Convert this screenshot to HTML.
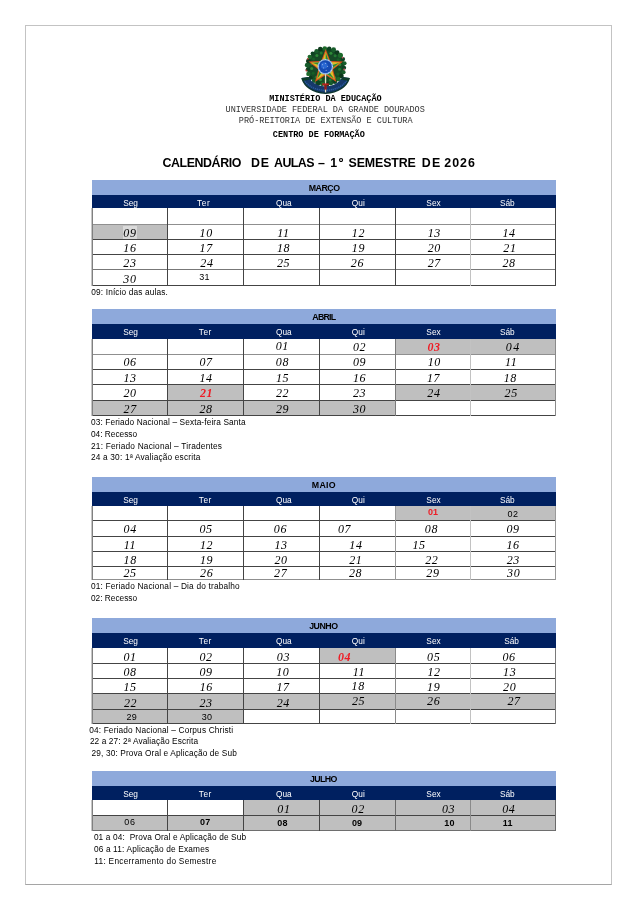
<!DOCTYPE html>
<html lang="pt-BR">
<head>
<meta charset="utf-8">
<title>Calendário de Aulas – 1º Semestre de 2026</title>
<style>
html,body{margin:0;padding:0;background:#fff;}
body{width:637px;height:900px;position:relative;overflow:hidden;}
.page{position:absolute;left:25px;top:25px;width:585px;height:858px;border:1px solid #c3c3c3;border-right-color:#c3c3c3;border-bottom-color:#a5a5a5;background:#fff;}
.w{position:absolute;left:0;top:0;width:637px;height:900px;will-change:transform;}
.r{position:absolute;}
.t{position:absolute;height:20px;line-height:20px;white-space:pre;margin:0;padding:0;}
.s{font-family:"Liberation Sans",sans-serif;}
.f{font-family:"Liberation Serif",serif;}
.m{font-family:"Liberation Mono",monospace;}
svg{position:absolute;}
</style>
</head>
<body>
<div class="page"></div>
<div class="w">

<svg style="left:293px;top:36px" width="64" height="62" viewBox="293 36 64 62">
<defs><filter id="bl" x="-10%" y="-10%" width="120%" height="120%"><feGaussianBlur stdDeviation="0.5"/></filter></defs>
<g filter="url(#bl)">
<circle cx="325.7" cy="66.5" r="18.8" fill="#144a26"/>
<circle cx="344.08" cy="67.76" r="2.09" fill="#0f4221"/>
<circle cx="343.55" cy="72.13" r="2.04" fill="#195c2a"/>
<circle cx="341.56" cy="76.08" r="2.22" fill="#0a381a"/>
<circle cx="338.42" cy="79.18" r="2.30" fill="#1f6a2c"/>
<circle cx="334.93" cy="81.77" r="2.26" fill="#0f4221"/>
<circle cx="330.94" cy="83.52" r="2.05" fill="#195c2a"/>
<circle cx="326.64" cy="84.60" r="2.50" fill="#0a381a"/>
<circle cx="322.24" cy="84.00" r="2.13" fill="#1f6a2c"/>
<circle cx="317.85" cy="83.14" r="2.57" fill="#0f4221"/>
<circle cx="314.04" cy="80.78" r="2.24" fill="#195c2a"/>
<circle cx="310.57" cy="77.88" r="2.03" fill="#0a381a"/>
<circle cx="308.34" cy="73.95" r="2.17" fill="#1f6a2c"/>
<circle cx="307.72" cy="69.55" r="2.07" fill="#0f4221"/>
<circle cx="307.34" cy="65.24" r="2.49" fill="#195c2a"/>
<circle cx="308.30" cy="61.02" r="2.35" fill="#0a381a"/>
<circle cx="309.76" cy="56.86" r="2.22" fill="#1f6a2c"/>
<circle cx="312.64" cy="53.47" r="2.04" fill="#0f4221"/>
<circle cx="316.45" cy="51.21" r="2.12" fill="#195c2a"/>
<circle cx="320.28" cy="48.90" r="2.26" fill="#0a381a"/>
<circle cx="324.76" cy="48.51" r="2.35" fill="#1f6a2c"/>
<circle cx="329.22" cy="48.68" r="2.18" fill="#0f4221"/>
<circle cx="333.62" cy="49.71" r="2.42" fill="#195c2a"/>
<circle cx="337.15" cy="52.48" r="2.34" fill="#0a381a"/>
<circle cx="340.47" cy="55.40" r="2.53" fill="#1f6a2c"/>
<circle cx="342.94" cy="59.10" r="2.17" fill="#0f4221"/>
<circle cx="344.50" cy="63.31" r="2.07" fill="#195c2a"/>
<circle cx="339.62" cy="69.32" r="1.5" fill="#237a31"/>
<circle cx="337.81" cy="73.91" r="1.5" fill="#175e28"/>
<circle cx="334.55" cy="77.61" r="1.5" fill="#2f8a37"/>
<circle cx="330.22" cy="79.96" r="1.5" fill="#237a31"/>
<circle cx="325.34" cy="80.70" r="1.5" fill="#175e28"/>
<circle cx="320.51" cy="79.72" r="1.5" fill="#2f8a37"/>
<circle cx="316.30" cy="77.14" r="1.5" fill="#237a31"/>
<circle cx="313.23" cy="73.28" r="1.5" fill="#175e28"/>
<circle cx="311.66" cy="68.61" r="1.5" fill="#2f8a37"/>
<circle cx="311.78" cy="63.68" r="1.5" fill="#237a31"/>
<circle cx="313.59" cy="59.09" r="1.5" fill="#175e28"/>
<circle cx="316.85" cy="55.39" r="1.5" fill="#2f8a37"/>
<circle cx="321.18" cy="53.04" r="1.5" fill="#237a31"/>
<circle cx="326.06" cy="52.30" r="1.5" fill="#175e28"/>
<circle cx="330.89" cy="53.28" r="1.5" fill="#2f8a37"/>
<circle cx="335.10" cy="55.86" r="1.5" fill="#237a31"/>
<circle cx="338.17" cy="59.72" r="1.5" fill="#175e28"/>
<circle cx="339.74" cy="64.39" r="1.5" fill="#2f8a37"/>
<circle cx="342.6" cy="57.6" r="0.9" fill="#c9546a"/>
<circle cx="344.2" cy="69.5" r="0.9" fill="#c9546a"/>
<circle cx="307.8" cy="58.8" r="0.9" fill="#b23a2e"/>
<circle cx="306.4" cy="70.5" r="0.9" fill="#b23a2e"/>
<path d="M301.8 78.0 L308.5 77.0 Q313.5 85.8 325.4 86.6 Q337.5 85.8 342.6 77.0 L349.4 78.0 Q344.8 91.8 325.4 93.3 Q306.2 91.8 301.8 78.0 Z" fill="#12376a"/>
<path d="M304.0 80.0 Q310 89.6 325.4 90.4 Q341 89.6 347.2 80.0" fill="none" stroke="#4a84d2" stroke-width="1.5" stroke-opacity="0.5" stroke-dasharray="1.2 0.8"/>
<path d="M301.8 78.0 Q306.2 91.8 325.4 93.3 Q344.8 91.8 349.4 78.0" fill="none" stroke="#0a3530" stroke-width="1.3"/>
<path d="M301.8 78.0 L308.5 77.0 L310 79.5 L303 81 Z" fill="#0c3d2c"/>
<path d="M349.4 78.0 L342.6 77.0 L341 79.5 L348.2 81 Z" fill="#0c3d2c"/>
<polygon points="325.70,49.00 330.23,60.97 343.01,61.58 333.02,69.58 336.40,81.92 325.70,74.90 315.00,81.92 318.38,69.58 308.39,61.58 321.17,60.97" fill="#d8501e"/>
<polygon points="325.70,51.60 329.52,61.94 340.54,62.38 331.88,69.21 334.87,79.82 325.70,73.70 316.53,79.82 319.52,69.21 310.86,62.38 321.88,61.94" fill="#e3a722"/>
<polygon points="325.70,52.80 329.23,62.35 339.40,62.75 331.41,69.05 334.16,78.85 325.70,73.20 317.24,78.85 319.99,69.05 312.00,62.75 322.17,62.35" fill="#dcc02c"/>
<polygon points="325.70,52.80 329.23,62.35 325.7,67.2" fill="#2a8738"/>
<polygon points="339.40,62.75 331.41,69.05 325.7,67.2" fill="#2a8738"/>
<polygon points="334.16,78.85 325.70,73.20 325.7,67.2" fill="#2a8738"/>
<polygon points="317.24,78.85 319.99,69.05 325.7,67.2" fill="#2a8738"/>
<polygon points="312.00,62.75 322.17,62.35 325.7,67.2" fill="#2a8738"/>
<rect x="324.9" y="74" width="1.3" height="18.4" fill="#e6dfc4"/>
<rect x="322.2" y="83.4" width="6.6" height="1.9" fill="#b5221d"/>
<rect x="324.3" y="85" width="2.4" height="4.6" fill="#8a1a1a"/>
<circle cx="325.3" cy="66.7" r="7.8" fill="#8db4e4"/>
<circle cx="325.3" cy="66.7" r="6.5" fill="#174bb2"/>
<circle cx="324.2" cy="65.5" r="3.3" fill="#2a68d2"/>
<circle cx="332.40" cy="66.70" r="0.4" fill="#fff"/>
<circle cx="331.45" cy="70.25" r="0.4" fill="#fff"/>
<circle cx="328.85" cy="72.85" r="0.4" fill="#fff"/>
<circle cx="325.30" cy="73.80" r="0.4" fill="#fff"/>
<circle cx="321.75" cy="72.85" r="0.4" fill="#fff"/>
<circle cx="319.15" cy="70.25" r="0.4" fill="#fff"/>
<circle cx="318.20" cy="66.70" r="0.4" fill="#fff"/>
<circle cx="319.15" cy="63.15" r="0.4" fill="#fff"/>
<circle cx="321.75" cy="60.55" r="0.4" fill="#fff"/>
<circle cx="325.30" cy="59.60" r="0.4" fill="#fff"/>
<circle cx="328.85" cy="60.55" r="0.4" fill="#fff"/>
<circle cx="331.45" cy="63.15" r="0.4" fill="#fff"/>
<circle cx="325.3" cy="63.3" r="0.45" fill="#fff"/>
<circle cx="323.5" cy="67.9" r="0.45" fill="#fff"/>
<circle cx="327.7" cy="66.3" r="0.45" fill="#fff"/>
<circle cx="326.1" cy="70.2" r="0.45" fill="#fff"/>
<circle cx="322.7" cy="64.7" r="0.45" fill="#fff"/>
</g></svg>
<div class="t m" style="top:88.93px;font-size:8.53px;left:-24.60px;width:700px;text-align:center;color:#000;font-weight:bold;">MINISTÉRIO DA EDUCAÇÃO</div>
<div class="t m" style="top:100.33px;font-size:8.53px;left:-24.80px;width:700px;text-align:center;color:#333;">UNIVERSIDADE FEDERAL DA GRANDE DOURADOS</div>
<div class="t m" style="top:111.03px;font-size:8.53px;left:-24.30px;width:700px;text-align:center;color:#333;">PRÓ-REITORIA DE EXTENSÃO E CULTURA</div>
<div class="t m" style="top:124.93px;font-size:8.53px;left:-31.20px;width:700px;text-align:center;color:#000;font-weight:bold;">CENTRO DE FORMAÇÃO</div>
<div class="t s" style="left:0;top:153.30px;width:637px;font-size:12.4px;font-weight:bold;color:#000"><span style="position:absolute;left:162.40px;letter-spacing:-0.40px">CALENDÁRIO</span> <span style="position:absolute;left:251.00px;letter-spacing:0.90px">DE</span> <span style="position:absolute;left:274.00px;letter-spacing:-0.56px">AULAS</span> <span style="position:absolute;left:318.00px;letter-spacing:0.00px">–</span> <span style="position:absolute;left:330.30px;letter-spacing:1.60px">1º</span> <span style="position:absolute;left:348.60px;letter-spacing:-0.13px">SEMESTRE</span> <span style="position:absolute;left:421.80px;letter-spacing:1.35px">DE</span> <span style="position:absolute;left:444.20px;letter-spacing:1.05px">2026</span></div>
<div class="r" style="left:92px;top:180px;width:464px;height:15px;background:#8ea9db"></div>
<div class="r" style="left:92px;top:195px;width:464px;height:13px;background:#002060"></div>
<div class="t s" style="top:178.15px;font-size:8.8px;left:-25.83px;width:700px;text-align:center;color:#000;font-weight:bold;letter-spacing:-0.45px;">MARÇO</div>
<div class="t s" style="top:193.02px;font-size:8.3px;left:-219.40px;width:700px;text-align:center;color:#fff;letter-spacing:0.0px;">Seg</div>
<div class="t s" style="top:193.02px;font-size:8.3px;left:-146.40px;width:700px;text-align:center;color:#fff;letter-spacing:0.6px;">Ter</div>
<div class="t s" style="top:193.02px;font-size:8.3px;left:-66.20px;width:700px;text-align:center;color:#fff;letter-spacing:0.0px;">Qua</div>
<div class="t s" style="top:193.02px;font-size:8.3px;left:8.30px;width:700px;text-align:center;color:#fff;letter-spacing:0.0px;">Qui</div>
<div class="t s" style="top:193.02px;font-size:8.3px;left:83.50px;width:700px;text-align:center;color:#fff;letter-spacing:0.0px;">Sex</div>
<div class="t s" style="top:193.02px;font-size:8.3px;left:157.30px;width:700px;text-align:center;color:#fff;letter-spacing:0.0px;">Sáb</div>
<div class="r" style="left:92px;top:225px;width:75px;height:14px;background:#bfbfbf"></div>
<div class="r" style="left:91px;top:224px;width:465px;height:1px;background:#8f8f8f;z-index:2"></div>
<div class="r" style="left:91px;top:239px;width:465px;height:1px;background:#444444;z-index:2"></div>
<div class="r" style="left:91px;top:254px;width:465px;height:1px;background:#444444;z-index:2"></div>
<div class="r" style="left:91px;top:269px;width:465px;height:1px;background:#777;z-index:2"></div>
<div class="r" style="left:91px;top:285px;width:465px;height:1px;background:#444444;z-index:2"></div>
<div class="r" style="left:91px;top:208px;width:1px;height:78px;background:#c6c6c6;z-index:2"></div>
<div class="r" style="left:92px;top:208px;width:1px;height:78px;background:#808080;z-index:2"></div>
<div class="r" style="left:167px;top:208px;width:1px;height:78px;background:#444444;z-index:2"></div>
<div class="r" style="left:243px;top:208px;width:1px;height:78px;background:#444444;z-index:2"></div>
<div class="r" style="left:319px;top:208px;width:1px;height:78px;background:#444444;z-index:2"></div>
<div class="r" style="left:395px;top:208px;width:1px;height:78px;background:#444444;z-index:2"></div>
<div class="r" style="left:470px;top:208px;width:1px;height:78px;background:#c2c2c2;z-index:2"></div>
<div class="r" style="left:555px;top:208px;width:1px;height:78px;background:#444444;z-index:2"></div>
<div class="t f" style="top:222.85px;font-size:12px;left:-220.10px;width:700px;text-align:center;color:#000;font-style:italic;letter-spacing:0.6px;"><span style="background:#dadada">09</span></div>
<div class="t f" style="top:222.85px;font-size:12px;left:-143.80px;width:700px;text-align:center;color:#000;font-style:italic;letter-spacing:0.6px;">10</div>
<div class="t f" style="top:222.85px;font-size:12px;left:-66.50px;width:700px;text-align:center;color:#000;font-style:italic;letter-spacing:0.6px;">11</div>
<div class="t f" style="top:222.85px;font-size:12px;left:8.40px;width:700px;text-align:center;color:#000;font-style:italic;letter-spacing:0.6px;">12</div>
<div class="t f" style="top:222.85px;font-size:12px;left:84.30px;width:700px;text-align:center;color:#000;font-style:italic;letter-spacing:0.6px;">13</div>
<div class="t f" style="top:222.85px;font-size:12px;left:159.00px;width:700px;text-align:center;color:#000;font-style:italic;letter-spacing:0.6px;">14</div>
<div class="t f" style="top:238.25px;font-size:12px;left:-220.10px;width:700px;text-align:center;color:#000;font-style:italic;letter-spacing:0.6px;">16</div>
<div class="t f" style="top:238.25px;font-size:12px;left:-143.80px;width:700px;text-align:center;color:#000;font-style:italic;letter-spacing:0.6px;">17</div>
<div class="t f" style="top:238.25px;font-size:12px;left:-66.50px;width:700px;text-align:center;color:#000;font-style:italic;letter-spacing:0.6px;">18</div>
<div class="t f" style="top:238.25px;font-size:12px;left:8.40px;width:700px;text-align:center;color:#000;font-style:italic;letter-spacing:0.6px;">19</div>
<div class="t f" style="top:238.25px;font-size:12px;left:84.30px;width:700px;text-align:center;color:#000;font-style:italic;letter-spacing:0.6px;">20</div>
<div class="t f" style="top:238.25px;font-size:12px;left:159.90px;width:700px;text-align:center;color:#000;font-style:italic;letter-spacing:0.6px;">21</div>
<div class="t f" style="top:253.25px;font-size:12px;left:-220.10px;width:700px;text-align:center;color:#000;font-style:italic;letter-spacing:0.6px;">23</div>
<div class="t f" style="top:253.25px;font-size:12px;left:-143.10px;width:700px;text-align:center;color:#000;font-style:italic;letter-spacing:0.6px;">24</div>
<div class="t f" style="top:253.25px;font-size:12px;left:-66.50px;width:700px;text-align:center;color:#000;font-style:italic;letter-spacing:0.6px;">25</div>
<div class="t f" style="top:253.25px;font-size:12px;left:7.40px;width:700px;text-align:center;color:#000;font-style:italic;letter-spacing:0.6px;">26</div>
<div class="t f" style="top:253.25px;font-size:12px;left:84.30px;width:700px;text-align:center;color:#000;font-style:italic;letter-spacing:0.6px;">27</div>
<div class="t f" style="top:253.25px;font-size:12px;left:159.00px;width:700px;text-align:center;color:#000;font-style:italic;letter-spacing:0.6px;">28</div>
<div class="t f" style="top:268.85px;font-size:12px;left:-220.10px;width:700px;text-align:center;color:#000;font-style:italic;letter-spacing:0.6px;">30</div>
<div class="t s" style="top:267.28px;font-size:9.0px;left:-145.40px;width:700px;text-align:center;color:#000;letter-spacing:0.3px;">31</div>
<div class="t s" style="top:281.62px;font-size:8.3px;left:91.30px;color:#000;letter-spacing:0.14px;">09: Início das aulas.</div>
<div class="r" style="left:92px;top:309px;width:464px;height:15px;background:#8ea9db"></div>
<div class="r" style="left:92px;top:324px;width:464px;height:15px;background:#002060"></div>
<div class="t s" style="top:307.15px;font-size:8.8px;left:-26.19px;width:700px;text-align:center;color:#000;font-weight:bold;letter-spacing:-0.78px;">ABRIL</div>
<div class="t s" style="top:322.02px;font-size:8.3px;left:-219.40px;width:700px;text-align:center;color:#fff;letter-spacing:0.0px;">Seg</div>
<div class="t s" style="top:322.02px;font-size:8.3px;left:-144.70px;width:700px;text-align:center;color:#fff;letter-spacing:0.6px;">Ter</div>
<div class="t s" style="top:322.02px;font-size:8.3px;left:-66.20px;width:700px;text-align:center;color:#fff;letter-spacing:0.0px;">Qua</div>
<div class="t s" style="top:322.02px;font-size:8.3px;left:8.30px;width:700px;text-align:center;color:#fff;letter-spacing:0.0px;">Qui</div>
<div class="t s" style="top:322.02px;font-size:8.3px;left:83.50px;width:700px;text-align:center;color:#fff;letter-spacing:0.0px;">Sex</div>
<div class="t s" style="top:322.02px;font-size:8.3px;left:157.30px;width:700px;text-align:center;color:#fff;letter-spacing:0.0px;">Sáb</div>
<div class="r" style="left:396px;top:339px;width:74px;height:15px;background:#bfbfbf"></div>
<div class="r" style="left:471px;top:339px;width:84px;height:15px;background:#bfbfbf"></div>
<div class="r" style="left:168px;top:385px;width:75px;height:15px;background:#bfbfbf"></div>
<div class="r" style="left:396px;top:385px;width:74px;height:15px;background:#bfbfbf"></div>
<div class="r" style="left:471px;top:385px;width:84px;height:15px;background:#bfbfbf"></div>
<div class="r" style="left:92px;top:401px;width:75px;height:14px;background:#bfbfbf"></div>
<div class="r" style="left:168px;top:401px;width:75px;height:14px;background:#bfbfbf"></div>
<div class="r" style="left:244px;top:401px;width:75px;height:14px;background:#bfbfbf"></div>
<div class="r" style="left:320px;top:401px;width:75px;height:14px;background:#bfbfbf"></div>
<div class="r" style="left:91px;top:354px;width:465px;height:1px;background:#8f8f8f;z-index:2"></div>
<div class="r" style="left:91px;top:369px;width:465px;height:1px;background:#444444;z-index:2"></div>
<div class="r" style="left:91px;top:384px;width:465px;height:1px;background:#444444;z-index:2"></div>
<div class="r" style="left:91px;top:400px;width:465px;height:1px;background:#444444;z-index:2"></div>
<div class="r" style="left:91px;top:415px;width:465px;height:1px;background:#444444;z-index:2"></div>
<div class="r" style="left:91px;top:339px;width:1px;height:77px;background:#c6c6c6;z-index:2"></div>
<div class="r" style="left:92px;top:339px;width:1px;height:77px;background:#808080;z-index:2"></div>
<div class="r" style="left:167px;top:339px;width:1px;height:77px;background:#444444;z-index:2"></div>
<div class="r" style="left:243px;top:339px;width:1px;height:77px;background:#444444;z-index:2"></div>
<div class="r" style="left:319px;top:339px;width:1px;height:77px;background:#444444;z-index:2"></div>
<div class="r" style="left:395px;top:339px;width:1px;height:77px;background:#7a7a7a;z-index:2"></div>
<div class="r" style="left:470px;top:339px;width:1px;height:77px;background:#c2c2c2;z-index:2"></div>
<div class="r" style="left:555px;top:339px;width:1px;height:77px;background:#8a8a8a;z-index:2"></div>
<div class="t f" style="top:336.05px;font-size:12px;left:-67.70px;width:700px;text-align:center;color:#000;font-style:italic;letter-spacing:0.6px;">01</div>
<div class="t f" style="top:337.25px;font-size:12px;left:9.50px;width:700px;text-align:center;color:#000;font-style:italic;letter-spacing:0.6px;">02</div>
<div class="t f" style="top:337.25px;font-size:12px;left:83.90px;width:700px;text-align:center;color:#ee1c25;font-weight:bold;font-style:italic;letter-spacing:0.5px;">03</div>
<div class="t f" style="top:337.25px;font-size:12px;left:163.30px;width:700px;text-align:center;color:#000;font-style:italic;letter-spacing:1.6px;">04</div>
<div class="t f" style="top:352.25px;font-size:12px;left:-220.00px;width:700px;text-align:center;color:#000;font-style:italic;letter-spacing:0.6px;">06</div>
<div class="t f" style="top:352.25px;font-size:12px;left:-143.90px;width:700px;text-align:center;color:#000;font-style:italic;letter-spacing:0.6px;">07</div>
<div class="t f" style="top:352.25px;font-size:12px;left:-67.60px;width:700px;text-align:center;color:#000;font-style:italic;letter-spacing:0.6px;">08</div>
<div class="t f" style="top:352.25px;font-size:12px;left:9.50px;width:700px;text-align:center;color:#000;font-style:italic;letter-spacing:0.6px;">09</div>
<div class="t f" style="top:352.25px;font-size:12px;left:84.30px;width:700px;text-align:center;color:#000;font-style:italic;letter-spacing:0.6px;">10</div>
<div class="t f" style="top:352.25px;font-size:12px;left:161.20px;width:700px;text-align:center;color:#000;font-style:italic;letter-spacing:0.6px;">11</div>
<div class="t f" style="top:368.05px;font-size:12px;left:-220.00px;width:700px;text-align:center;color:#000;font-style:italic;letter-spacing:0.6px;">13</div>
<div class="t f" style="top:368.05px;font-size:12px;left:-143.90px;width:700px;text-align:center;color:#000;font-style:italic;letter-spacing:0.6px;">14</div>
<div class="t f" style="top:368.05px;font-size:12px;left:-67.50px;width:700px;text-align:center;color:#000;font-style:italic;letter-spacing:0.6px;">15</div>
<div class="t f" style="top:368.05px;font-size:12px;left:9.50px;width:700px;text-align:center;color:#000;font-style:italic;letter-spacing:0.6px;">16</div>
<div class="t f" style="top:368.05px;font-size:12px;left:83.60px;width:700px;text-align:center;color:#000;font-style:italic;letter-spacing:0.6px;">17</div>
<div class="t f" style="top:368.05px;font-size:12px;left:160.30px;width:700px;text-align:center;color:#000;font-style:italic;letter-spacing:0.6px;">18</div>
<div class="t f" style="top:383.05px;font-size:12px;left:-220.00px;width:700px;text-align:center;color:#000;font-style:italic;letter-spacing:0.6px;">20</div>
<div class="t f" style="top:383.05px;font-size:12px;left:-143.40px;width:700px;text-align:center;color:#ee1c25;font-weight:bold;font-style:italic;letter-spacing:0.5px;">21</div>
<div class="t f" style="top:383.05px;font-size:12px;left:-67.50px;width:700px;text-align:center;color:#000;font-style:italic;letter-spacing:0.6px;">22</div>
<div class="t f" style="top:383.05px;font-size:12px;left:9.50px;width:700px;text-align:center;color:#000;font-style:italic;letter-spacing:0.6px;">23</div>
<div class="t f" style="top:383.05px;font-size:12px;left:83.90px;width:700px;text-align:center;color:#000;font-style:italic;letter-spacing:0.6px;">24</div>
<div class="t f" style="top:383.05px;font-size:12px;left:161.20px;width:700px;text-align:center;color:#000;font-style:italic;letter-spacing:0.6px;">25</div>
<div class="t f" style="top:398.55px;font-size:12px;left:-219.80px;width:700px;text-align:center;color:#000;font-style:italic;letter-spacing:0.6px;">27</div>
<div class="t f" style="top:398.55px;font-size:12px;left:-143.90px;width:700px;text-align:center;color:#000;font-style:italic;letter-spacing:0.6px;">28</div>
<div class="t f" style="top:398.55px;font-size:12px;left:-67.50px;width:700px;text-align:center;color:#000;font-style:italic;letter-spacing:0.6px;">29</div>
<div class="t f" style="top:398.55px;font-size:12px;left:9.50px;width:700px;text-align:center;color:#000;font-style:italic;letter-spacing:0.6px;">30</div>
<div class="t s" style="top:412.22px;font-size:8.3px;left:91.00px;color:#000;letter-spacing:0.12px;">03: Feriado Nacional – Sexta-feira Santa</div>
<div class="t s" style="top:424.02px;font-size:8.3px;left:91.00px;color:#000;">04: Recesso</div>
<div class="t s" style="top:435.82px;font-size:8.3px;left:91.00px;color:#000;letter-spacing:0.2px;">21: Feriado Nacional – Tiradentes</div>
<div class="t s" style="top:447.12px;font-size:8.3px;left:91.00px;color:#000;letter-spacing:0.176px;">24 a 30: 1ª Avaliação escrita</div>
<div class="r" style="left:92px;top:477px;width:464px;height:15px;background:#8ea9db"></div>
<div class="r" style="left:92px;top:492px;width:464px;height:14px;background:#002060"></div>
<div class="t s" style="top:475.15px;font-size:8.8px;left:-26.19px;width:700px;text-align:center;color:#000;font-weight:bold;letter-spacing:0.23px;">MAIO</div>
<div class="t s" style="top:490.02px;font-size:8.3px;left:-219.40px;width:700px;text-align:center;color:#fff;letter-spacing:0.0px;">Seg</div>
<div class="t s" style="top:490.02px;font-size:8.3px;left:-144.70px;width:700px;text-align:center;color:#fff;letter-spacing:0.6px;">Ter</div>
<div class="t s" style="top:490.02px;font-size:8.3px;left:-66.20px;width:700px;text-align:center;color:#fff;letter-spacing:0.0px;">Qua</div>
<div class="t s" style="top:490.02px;font-size:8.3px;left:8.30px;width:700px;text-align:center;color:#fff;letter-spacing:0.0px;">Qui</div>
<div class="t s" style="top:490.02px;font-size:8.3px;left:83.50px;width:700px;text-align:center;color:#fff;letter-spacing:0.0px;">Sex</div>
<div class="t s" style="top:490.02px;font-size:8.3px;left:157.30px;width:700px;text-align:center;color:#fff;letter-spacing:0.0px;">Sáb</div>
<div class="r" style="left:396px;top:506px;width:74px;height:14px;background:#bfbfbf"></div>
<div class="r" style="left:471px;top:506px;width:84px;height:14px;background:#bfbfbf"></div>
<div class="r" style="left:91px;top:520px;width:465px;height:1px;background:#444444;z-index:2"></div>
<div class="r" style="left:91px;top:536px;width:465px;height:1px;background:#444444;z-index:2"></div>
<div class="r" style="left:91px;top:551px;width:465px;height:1px;background:#444444;z-index:2"></div>
<div class="r" style="left:91px;top:566px;width:465px;height:1px;background:#444444;z-index:2"></div>
<div class="r" style="left:91px;top:579px;width:465px;height:1px;background:#8f8f8f;z-index:2"></div>
<div class="r" style="left:91px;top:506px;width:1px;height:74px;background:#c6c6c6;z-index:2"></div>
<div class="r" style="left:92px;top:506px;width:1px;height:74px;background:#808080;z-index:2"></div>
<div class="r" style="left:167px;top:506px;width:1px;height:74px;background:#444444;z-index:2"></div>
<div class="r" style="left:243px;top:506px;width:1px;height:74px;background:#444444;z-index:2"></div>
<div class="r" style="left:319px;top:506px;width:1px;height:74px;background:#444444;z-index:2"></div>
<div class="r" style="left:395px;top:506px;width:1px;height:74px;background:#9a9a9a;z-index:2"></div>
<div class="r" style="left:470px;top:506px;width:1px;height:74px;background:#c2c2c2;z-index:2"></div>
<div class="r" style="left:555px;top:506px;width:1px;height:74px;background:#9a9a9a;z-index:2"></div>
<div class="t s" style="top:502.48px;font-size:9.0px;left:82.90px;width:700px;text-align:center;color:#ee1c25;font-weight:bold;letter-spacing:0.0px;">01</div>
<div class="t s" style="top:503.98px;font-size:9.0px;left:162.90px;width:700px;text-align:center;color:#000;letter-spacing:0.3px;">02</div>
<div class="t f" style="top:519.25px;font-size:12px;left:-219.80px;width:700px;text-align:center;color:#000;font-style:italic;letter-spacing:0.6px;">04</div>
<div class="t f" style="top:519.25px;font-size:12px;left:-143.90px;width:700px;text-align:center;color:#000;font-style:italic;letter-spacing:0.6px;">05</div>
<div class="t f" style="top:519.25px;font-size:12px;left:-69.60px;width:700px;text-align:center;color:#000;font-style:italic;letter-spacing:0.6px;">06</div>
<div class="t f" style="top:519.25px;font-size:12px;left:-5.50px;width:700px;text-align:center;color:#000;font-style:italic;letter-spacing:0.6px;">07</div>
<div class="t f" style="top:519.25px;font-size:12px;left:81.40px;width:700px;text-align:center;color:#000;font-style:italic;letter-spacing:0.6px;">08</div>
<div class="t f" style="top:519.25px;font-size:12px;left:163.10px;width:700px;text-align:center;color:#000;font-style:italic;letter-spacing:0.6px;">09</div>
<div class="t f" style="top:534.95px;font-size:12px;left:-220.00px;width:700px;text-align:center;color:#000;font-style:italic;letter-spacing:0.6px;">11</div>
<div class="t f" style="top:534.95px;font-size:12px;left:-143.50px;width:700px;text-align:center;color:#000;font-style:italic;letter-spacing:0.6px;">12</div>
<div class="t f" style="top:534.95px;font-size:12px;left:-69.00px;width:700px;text-align:center;color:#000;font-style:italic;letter-spacing:0.6px;">13</div>
<div class="t f" style="top:534.95px;font-size:12px;left:5.90px;width:700px;text-align:center;color:#000;font-style:italic;letter-spacing:0.6px;">14</div>
<div class="t f" style="top:534.65px;font-size:12px;left:69.10px;width:700px;text-align:center;color:#000;font-style:italic;letter-spacing:0.6px;">15</div>
<div class="t f" style="top:534.95px;font-size:12px;left:163.10px;width:700px;text-align:center;color:#000;font-style:italic;letter-spacing:0.6px;">16</div>
<div class="t f" style="top:550.05px;font-size:12px;left:-219.80px;width:700px;text-align:center;color:#000;font-style:italic;letter-spacing:0.6px;">18</div>
<div class="t f" style="top:550.05px;font-size:12px;left:-143.50px;width:700px;text-align:center;color:#000;font-style:italic;letter-spacing:0.6px;">19</div>
<div class="t f" style="top:550.05px;font-size:12px;left:-69.00px;width:700px;text-align:center;color:#000;font-style:italic;letter-spacing:0.6px;">20</div>
<div class="t f" style="top:550.05px;font-size:12px;left:5.80px;width:700px;text-align:center;color:#000;font-style:italic;letter-spacing:0.6px;">21</div>
<div class="t f" style="top:550.05px;font-size:12px;left:81.80px;width:700px;text-align:center;color:#000;font-style:italic;letter-spacing:0.6px;">22</div>
<div class="t f" style="top:550.05px;font-size:12px;left:163.30px;width:700px;text-align:center;color:#000;font-style:italic;letter-spacing:0.6px;">23</div>
<div class="t f" style="top:562.55px;font-size:12px;left:-220.00px;width:700px;text-align:center;color:#000;font-style:italic;letter-spacing:0.6px;">25</div>
<div class="t f" style="top:562.55px;font-size:12px;left:-143.30px;width:700px;text-align:center;color:#000;font-style:italic;letter-spacing:0.6px;">26</div>
<div class="t f" style="top:562.55px;font-size:12px;left:-69.30px;width:700px;text-align:center;color:#000;font-style:italic;letter-spacing:0.6px;">27</div>
<div class="t f" style="top:562.55px;font-size:12px;left:5.50px;width:700px;text-align:center;color:#000;font-style:italic;letter-spacing:0.6px;">28</div>
<div class="t f" style="top:562.55px;font-size:12px;left:82.90px;width:700px;text-align:center;color:#000;font-style:italic;letter-spacing:0.6px;">29</div>
<div class="t f" style="top:562.55px;font-size:12px;left:163.70px;width:700px;text-align:center;color:#000;font-style:italic;letter-spacing:0.6px;">30</div>
<div class="t s" style="top:576.42px;font-size:8.3px;left:91.00px;color:#000;letter-spacing:0.18px;">01: Feriado Nacional – Dia do trabalho</div>
<div class="t s" style="top:587.72px;font-size:8.3px;left:91.00px;color:#000;">02: Recesso</div>
<div class="r" style="left:92px;top:618px;width:464px;height:15px;background:#8ea9db"></div>
<div class="r" style="left:92px;top:633px;width:464px;height:15px;background:#002060"></div>
<div class="t s" style="top:616.15px;font-size:8.8px;left:-26.64px;width:700px;text-align:center;color:#000;font-weight:bold;letter-spacing:-0.48px;">JUNHO</div>
<div class="t s" style="top:631.02px;font-size:8.3px;left:-219.40px;width:700px;text-align:center;color:#fff;letter-spacing:0.0px;">Seg</div>
<div class="t s" style="top:631.02px;font-size:8.3px;left:-144.70px;width:700px;text-align:center;color:#fff;letter-spacing:0.6px;">Ter</div>
<div class="t s" style="top:631.02px;font-size:8.3px;left:-66.20px;width:700px;text-align:center;color:#fff;letter-spacing:0.0px;">Qua</div>
<div class="t s" style="top:631.02px;font-size:8.3px;left:8.30px;width:700px;text-align:center;color:#fff;letter-spacing:0.0px;">Qui</div>
<div class="t s" style="top:631.02px;font-size:8.3px;left:83.50px;width:700px;text-align:center;color:#fff;letter-spacing:0.0px;">Sex</div>
<div class="t s" style="top:631.02px;font-size:8.3px;left:161.60px;width:700px;text-align:center;color:#fff;letter-spacing:0.0px;">Sáb</div>
<div class="r" style="left:320px;top:648px;width:75px;height:15px;background:#bfbfbf"></div>
<div class="r" style="left:92px;top:694px;width:75px;height:15px;background:#bfbfbf"></div>
<div class="r" style="left:168px;top:694px;width:75px;height:15px;background:#bfbfbf"></div>
<div class="r" style="left:244px;top:694px;width:75px;height:15px;background:#bfbfbf"></div>
<div class="r" style="left:320px;top:694px;width:75px;height:15px;background:#bfbfbf"></div>
<div class="r" style="left:396px;top:694px;width:74px;height:15px;background:#bfbfbf"></div>
<div class="r" style="left:471px;top:694px;width:84px;height:15px;background:#bfbfbf"></div>
<div class="r" style="left:92px;top:710px;width:75px;height:13px;background:#bfbfbf"></div>
<div class="r" style="left:168px;top:710px;width:75px;height:13px;background:#bfbfbf"></div>
<div class="r" style="left:91px;top:663px;width:465px;height:1px;background:#444444;z-index:2"></div>
<div class="r" style="left:91px;top:678px;width:465px;height:1px;background:#444444;z-index:2"></div>
<div class="r" style="left:91px;top:693px;width:465px;height:1px;background:#444444;z-index:2"></div>
<div class="r" style="left:91px;top:709px;width:465px;height:1px;background:#444444;z-index:2"></div>
<div class="r" style="left:91px;top:723px;width:465px;height:1px;background:#444444;z-index:2"></div>
<div class="r" style="left:91px;top:648px;width:1px;height:76px;background:#c6c6c6;z-index:2"></div>
<div class="r" style="left:92px;top:648px;width:1px;height:76px;background:#808080;z-index:2"></div>
<div class="r" style="left:167px;top:648px;width:1px;height:76px;background:#444444;z-index:2"></div>
<div class="r" style="left:243px;top:648px;width:1px;height:76px;background:#444444;z-index:2"></div>
<div class="r" style="left:319px;top:648px;width:1px;height:76px;background:#444444;z-index:2"></div>
<div class="r" style="left:395px;top:648px;width:1px;height:76px;background:#8a8a8a;z-index:2"></div>
<div class="r" style="left:470px;top:648px;width:1px;height:76px;background:#c2c2c2;z-index:2"></div>
<div class="r" style="left:555px;top:648px;width:1px;height:76px;background:#7a7a7a;z-index:2"></div>
<div class="t f" style="top:646.75px;font-size:12px;left:-220.00px;width:700px;text-align:center;color:#000;font-style:italic;letter-spacing:0.6px;">01</div>
<div class="t f" style="top:646.75px;font-size:12px;left:-143.90px;width:700px;text-align:center;color:#000;font-style:italic;letter-spacing:0.6px;">02</div>
<div class="t f" style="top:646.75px;font-size:12px;left:-66.60px;width:700px;text-align:center;color:#000;font-style:italic;letter-spacing:0.6px;">03</div>
<div class="t f" style="top:646.75px;font-size:12px;left:-5.50px;width:700px;text-align:center;color:#ee1c25;font-weight:bold;font-style:italic;letter-spacing:0.5px;">04</div>
<div class="t f" style="top:646.75px;font-size:12px;left:83.70px;width:700px;text-align:center;color:#000;font-style:italic;letter-spacing:0.6px;">05</div>
<div class="t f" style="top:646.75px;font-size:12px;left:159.00px;width:700px;text-align:center;color:#000;font-style:italic;letter-spacing:0.6px;">06</div>
<div class="t f" style="top:661.85px;font-size:12px;left:-220.00px;width:700px;text-align:center;color:#000;font-style:italic;letter-spacing:0.6px;">08</div>
<div class="t f" style="top:661.85px;font-size:12px;left:-143.90px;width:700px;text-align:center;color:#000;font-style:italic;letter-spacing:0.6px;">09</div>
<div class="t f" style="top:661.85px;font-size:12px;left:-67.20px;width:700px;text-align:center;color:#000;font-style:italic;letter-spacing:0.6px;">10</div>
<div class="t f" style="top:661.85px;font-size:12px;left:8.90px;width:700px;text-align:center;color:#000;font-style:italic;letter-spacing:0.6px;">11</div>
<div class="t f" style="top:661.85px;font-size:12px;left:84.00px;width:700px;text-align:center;color:#000;font-style:italic;letter-spacing:0.6px;">12</div>
<div class="t f" style="top:661.85px;font-size:12px;left:159.70px;width:700px;text-align:center;color:#000;font-style:italic;letter-spacing:0.6px;">13</div>
<div class="t f" style="top:676.95px;font-size:12px;left:-220.00px;width:700px;text-align:center;color:#000;font-style:italic;letter-spacing:0.6px;">15</div>
<div class="t f" style="top:676.95px;font-size:12px;left:-143.70px;width:700px;text-align:center;color:#000;font-style:italic;letter-spacing:0.6px;">16</div>
<div class="t f" style="top:676.95px;font-size:12px;left:-67.00px;width:700px;text-align:center;color:#000;font-style:italic;letter-spacing:0.6px;">17</div>
<div class="t f" style="top:675.65px;font-size:12px;left:8.20px;width:700px;text-align:center;color:#000;font-style:italic;letter-spacing:0.6px;">18</div>
<div class="t f" style="top:677.25px;font-size:12px;left:83.70px;width:700px;text-align:center;color:#000;font-style:italic;letter-spacing:0.6px;">19</div>
<div class="t f" style="top:676.95px;font-size:12px;left:159.70px;width:700px;text-align:center;color:#000;font-style:italic;letter-spacing:0.6px;">20</div>
<div class="t f" style="top:693.25px;font-size:12px;left:-219.50px;width:700px;text-align:center;color:#000;font-style:italic;letter-spacing:0.6px;">22</div>
<div class="t f" style="top:693.25px;font-size:12px;left:-143.90px;width:700px;text-align:center;color:#000;font-style:italic;letter-spacing:0.6px;">23</div>
<div class="t f" style="top:693.25px;font-size:12px;left:-66.70px;width:700px;text-align:center;color:#000;font-style:italic;letter-spacing:0.6px;">24</div>
<div class="t f" style="top:690.75px;font-size:12px;left:8.60px;width:700px;text-align:center;color:#000;font-style:italic;letter-spacing:0.6px;">25</div>
<div class="t f" style="top:690.75px;font-size:12px;left:83.70px;width:700px;text-align:center;color:#000;font-style:italic;letter-spacing:0.6px;">26</div>
<div class="t f" style="top:690.75px;font-size:12px;left:164.10px;width:700px;text-align:center;color:#000;font-style:italic;letter-spacing:0.6px;">27</div>
<div class="t s" style="top:706.78px;font-size:9.0px;left:-218.30px;width:700px;text-align:center;color:#000;letter-spacing:0.3px;">29</div>
<div class="t s" style="top:706.78px;font-size:9.0px;left:-142.90px;width:700px;text-align:center;color:#000;letter-spacing:0.3px;">30</div>
<div class="t s" style="top:719.82px;font-size:8.3px;left:89.20px;color:#000;letter-spacing:0.154px;">04: Feriado Nacional – Corpus Christi</div>
<div class="t s" style="top:731.12px;font-size:8.3px;left:89.90px;color:#000;letter-spacing:0.1px;">22 a 27: 2ª Avaliação Escrita</div>
<div class="t s" style="top:743.02px;font-size:8.3px;left:91.60px;color:#000;letter-spacing:0.125px;">29, 30: Prova Oral e Aplicação de Sub</div>
<div class="r" style="left:92px;top:771px;width:464px;height:15px;background:#8ea9db"></div>
<div class="r" style="left:92px;top:786px;width:464px;height:14px;background:#002060"></div>
<div class="t s" style="top:769.15px;font-size:8.8px;left:-26.60px;width:700px;text-align:center;color:#000;font-weight:bold;letter-spacing:-0.6px;">JULHO</div>
<div class="t s" style="top:784.02px;font-size:8.3px;left:-219.40px;width:700px;text-align:center;color:#fff;letter-spacing:0.0px;">Seg</div>
<div class="t s" style="top:784.02px;font-size:8.3px;left:-144.70px;width:700px;text-align:center;color:#fff;letter-spacing:0.6px;">Ter</div>
<div class="t s" style="top:784.02px;font-size:8.3px;left:-66.20px;width:700px;text-align:center;color:#fff;letter-spacing:0.0px;">Qua</div>
<div class="t s" style="top:784.02px;font-size:8.3px;left:8.30px;width:700px;text-align:center;color:#fff;letter-spacing:0.0px;">Qui</div>
<div class="t s" style="top:784.02px;font-size:8.3px;left:83.50px;width:700px;text-align:center;color:#fff;letter-spacing:0.0px;">Sex</div>
<div class="t s" style="top:784.02px;font-size:8.3px;left:157.30px;width:700px;text-align:center;color:#fff;letter-spacing:0.0px;">Sáb</div>
<div class="r" style="left:244px;top:800px;width:75px;height:15px;background:#bfbfbf"></div>
<div class="r" style="left:320px;top:800px;width:75px;height:15px;background:#bfbfbf"></div>
<div class="r" style="left:396px;top:800px;width:74px;height:15px;background:#bfbfbf"></div>
<div class="r" style="left:471px;top:800px;width:84px;height:15px;background:#bfbfbf"></div>
<div class="r" style="left:92px;top:816px;width:75px;height:14px;background:#bfbfbf"></div>
<div class="r" style="left:168px;top:816px;width:75px;height:14px;background:#bfbfbf"></div>
<div class="r" style="left:244px;top:816px;width:75px;height:14px;background:#bfbfbf"></div>
<div class="r" style="left:320px;top:816px;width:75px;height:14px;background:#bfbfbf"></div>
<div class="r" style="left:396px;top:816px;width:74px;height:14px;background:#bfbfbf"></div>
<div class="r" style="left:471px;top:816px;width:84px;height:14px;background:#bfbfbf"></div>
<div class="r" style="left:91px;top:815px;width:465px;height:1px;background:#444444;z-index:2"></div>
<div class="r" style="left:91px;top:830px;width:465px;height:1px;background:#6e6e6e;z-index:2"></div>
<div class="r" style="left:91px;top:800px;width:1px;height:31px;background:#c6c6c6;z-index:2"></div>
<div class="r" style="left:92px;top:800px;width:1px;height:31px;background:#808080;z-index:2"></div>
<div class="r" style="left:167px;top:800px;width:1px;height:31px;background:#444444;z-index:2"></div>
<div class="r" style="left:243px;top:800px;width:1px;height:31px;background:#444444;z-index:2"></div>
<div class="r" style="left:319px;top:800px;width:1px;height:31px;background:#444444;z-index:2"></div>
<div class="r" style="left:395px;top:800px;width:1px;height:31px;background:#6a6a6a;z-index:2"></div>
<div class="r" style="left:470px;top:800px;width:1px;height:31px;background:#8a8a8a;z-index:2"></div>
<div class="r" style="left:555px;top:800px;width:1px;height:31px;background:#6a6a6a;z-index:2"></div>
<div class="t f" style="top:799.05px;font-size:12px;left:-66.10px;width:700px;text-align:center;color:#000;font-style:italic;letter-spacing:0.6px;">01</div>
<div class="t f" style="top:799.05px;font-size:12px;left:8.20px;width:700px;text-align:center;color:#000;font-style:italic;letter-spacing:0.6px;">02</div>
<div class="t f" style="top:799.05px;font-size:12px;left:98.50px;width:700px;text-align:center;color:#000;font-style:italic;letter-spacing:0.6px;">03</div>
<div class="t f" style="top:799.05px;font-size:12px;left:158.80px;width:700px;text-align:center;color:#000;font-style:italic;letter-spacing:0.6px;">04</div>
<div class="t s" style="top:811.98px;font-size:9.0px;left:-220.00px;width:700px;text-align:center;color:#000;letter-spacing:0.8px;">06</div>
<div class="t s" style="top:811.98px;font-size:9.0px;left:-144.70px;width:700px;text-align:center;color:#000;font-weight:bold;letter-spacing:0.2px;">07</div>
<div class="t s" style="top:813.18px;font-size:9.0px;left:-67.50px;width:700px;text-align:center;color:#000;font-weight:bold;letter-spacing:0.2px;">08</div>
<div class="t s" style="top:813.18px;font-size:9.0px;left:7.10px;width:700px;text-align:center;color:#000;font-weight:bold;letter-spacing:0.2px;">09</div>
<div class="t s" style="top:813.18px;font-size:9.0px;left:99.50px;width:700px;text-align:center;color:#000;font-weight:bold;letter-spacing:0.2px;">10</div>
<div class="t s" style="top:813.18px;font-size:9.0px;left:157.80px;width:700px;text-align:center;color:#000;font-weight:bold;letter-spacing:0.2px;">11</div>
<div class="t s" style="top:827.02px;font-size:8.3px;left:93.90px;color:#000;letter-spacing:0.12px;">01 a 04:  Prova Oral e Aplicação de Sub</div>
<div class="t s" style="top:838.82px;font-size:8.3px;left:93.90px;color:#000;letter-spacing:0.154px;">06 a 11: Aplicação de Exames</div>
<div class="t s" style="top:851.32px;font-size:8.3px;left:94.30px;color:#000;letter-spacing:0.27px;">11: Encerramento do Semestre</div>
</div>
</body>
</html>
